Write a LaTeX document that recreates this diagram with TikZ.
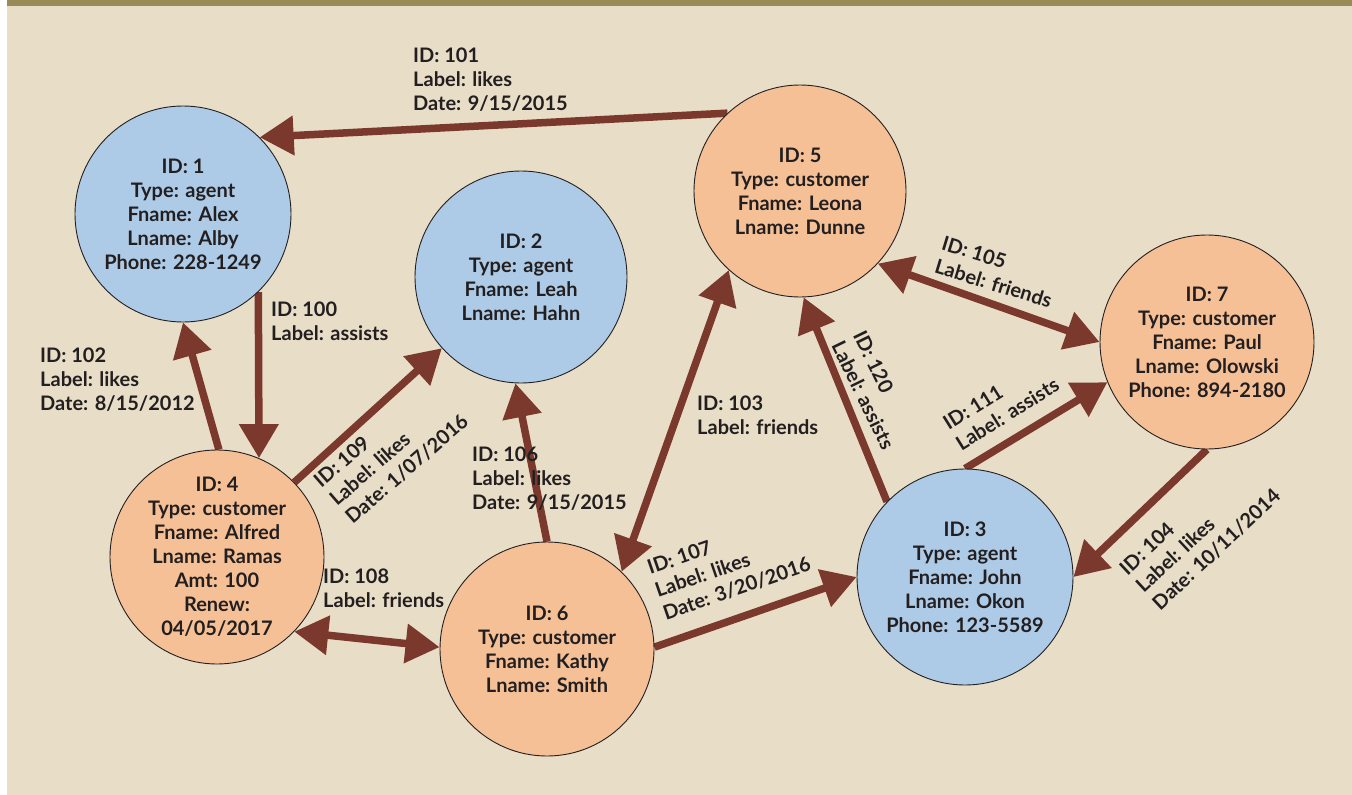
\documentclass[tikz,border=0pt]{standalone}
\usepackage{fontspec}
\setmainfont{Lato}
\usetikzlibrary{arrows.meta}
\definecolor{bgbeige}{RGB}{232,221,198}
\definecolor{topbar}{RGB}{152,139,86}
\definecolor{agentblue}{RGB}{173,203,230}
\definecolor{custorange}{RGB}{245,192,150}
\definecolor{edgebrown}{RGB}{123,56,45}
\definecolor{inkdark}{RGB}{35,31,32}
\pgfdeclarelayer{bg}
\pgfdeclarelayer{edges}
\pgfsetlayers{bg,edges,main}
\begin{document}
\begin{tikzpicture}[x=1pt,y=-1pt,
  vtx/.style={circle, draw=inkdark, line width=0.9pt, inner sep=0pt, align=center,
    text=inkdark, font=\fontsize{20}{24}\selectfont\bfseries},
  agent/.style={vtx, fill=agentblue},
  cust/.style={vtx, fill=custorange},
  tipshape/.tip={Triangle[length=34pt,width=38pt]},
  rel/.style={draw=edgebrown, line width=7.5pt, -tipshape},
  relboth/.style={draw=edgebrown, line width=7.5pt, tipshape-tipshape},
  lbl/.style={inner sep=0pt, align=left, text=inkdark, font=\fontsize{20}{24}\selectfont\bfseries}
]
\begin{pgfonlayer}{bg}
  \path[use as bounding box, fill=white] (0,0) rectangle (1352,795);
  \fill[bgbeige] (7,6) rectangle (1352,795);
  \fill[topbar] (7,0) rectangle (1352,6);
\end{pgfonlayer}

% vertices
\node[agent, minimum size=216pt] (n1) at (183,214) {ID: 1\\Type: agent\\Fname: Alex\\Lname: Alby\\Phone: 228-1249};
\node[agent, minimum size=212pt] (n2) at (521,277) {ID: 2\\Type: agent\\Fname: Leah\\Lname: Hahn};
\node[cust, minimum size=212pt] (n5) at (800,191) {ID: 5\\Type: customer\\Fname: Leona\\Lname: Dunne};
\node[cust, minimum size=214pt] (n7) at (1207,342) {ID: 7\\Type: customer\\Fname: Paul\\Lname: Olowski\\Phone: 894-2180};
\node[cust, minimum size=214pt] (n4) at (217,557) {ID: 4\\Type: customer\\Fname: Alfred\\Lname: Ramas\\Amt: 100\\Renew:\\04/05/2017};
\node[cust, minimum size=214pt] (n6) at (547,649) {ID: 6\\Type: customer\\Fname: Kathy\\Lname: Smith};
\node[agent, minimum size=216pt] (n3) at (965,577) {ID: 3\\Type: agent\\Fname: John\\Lname: Okon\\Phone: 123-5589};

% edges
\begin{pgfonlayer}{edges}
  \draw[rel] (n5.133) -- (n1.45);
  \draw[rel] (n1.-46) -- (n4.67);
  \draw[rel] (n4.89) -- (n1.-90);
  \draw[rel] (n4.44) -- (n2.222);
  \draw[rel] (n6.90) -- (n2.-93);
  \draw[relboth] (n6.46) -- (n5.228);
  \draw[rel] (n6.1) -- (n3.180);
  \draw[relboth] (n4.-44) -- (n6.179);
  \draw[rel] (n3.136) -- (n5.-88);
  \draw[relboth] (n5.-43) -- (n7.180);
  \draw[rel] (n3.90) -- (n7.202);
  \draw[rel] (n7.-90) -- (n3.0);
\end{pgfonlayer}

% edge labels
\node[lbl, anchor=west] (l101) at (413,80) {ID: 101\\Label: likes\\Date: 9/15/2015};
\node[lbl, anchor=west] (l100) at (271,321) {ID: 100\\Label: assists};
\node[lbl, anchor=west] (l102) at (40,380) {ID: 102\\Label: likes\\Date: 8/15/2012};
\node[lbl, anchor=west] (l106) at (472,479) {ID: 106\\Label: likes\\Date: 9/15/2015};
\node[lbl, anchor=west] (l103) at (697,415) {ID: 103\\Label: friends};
\node[lbl, anchor=west] (l108) at (323,588) {ID: 108\\Label: friends};
\node[lbl, rotate=41] (l109) at (391,451) {ID: 109\\Label: likes\\Date: 1/07/2016};
\node[lbl, rotate=19] (l107) at (729,566) {ID: 107\\Label: likes\\Date: 3/20/2016};
\node[lbl, rotate=-64] (l120) at (874,390) {ID: 120\\Label: assists};
\node[lbl, rotate=-17] (l105) at (997,272) {ID: 105\\Label: friends};
\node[lbl, rotate=32] (l111) at (1001,404) {ID: 111\\Label: assists};
\node[lbl, rotate=43] (l104) at (1200,532) {ID: 104\\Label: likes\\Date: 10/11/2014};
\end{tikzpicture}
\end{document}
